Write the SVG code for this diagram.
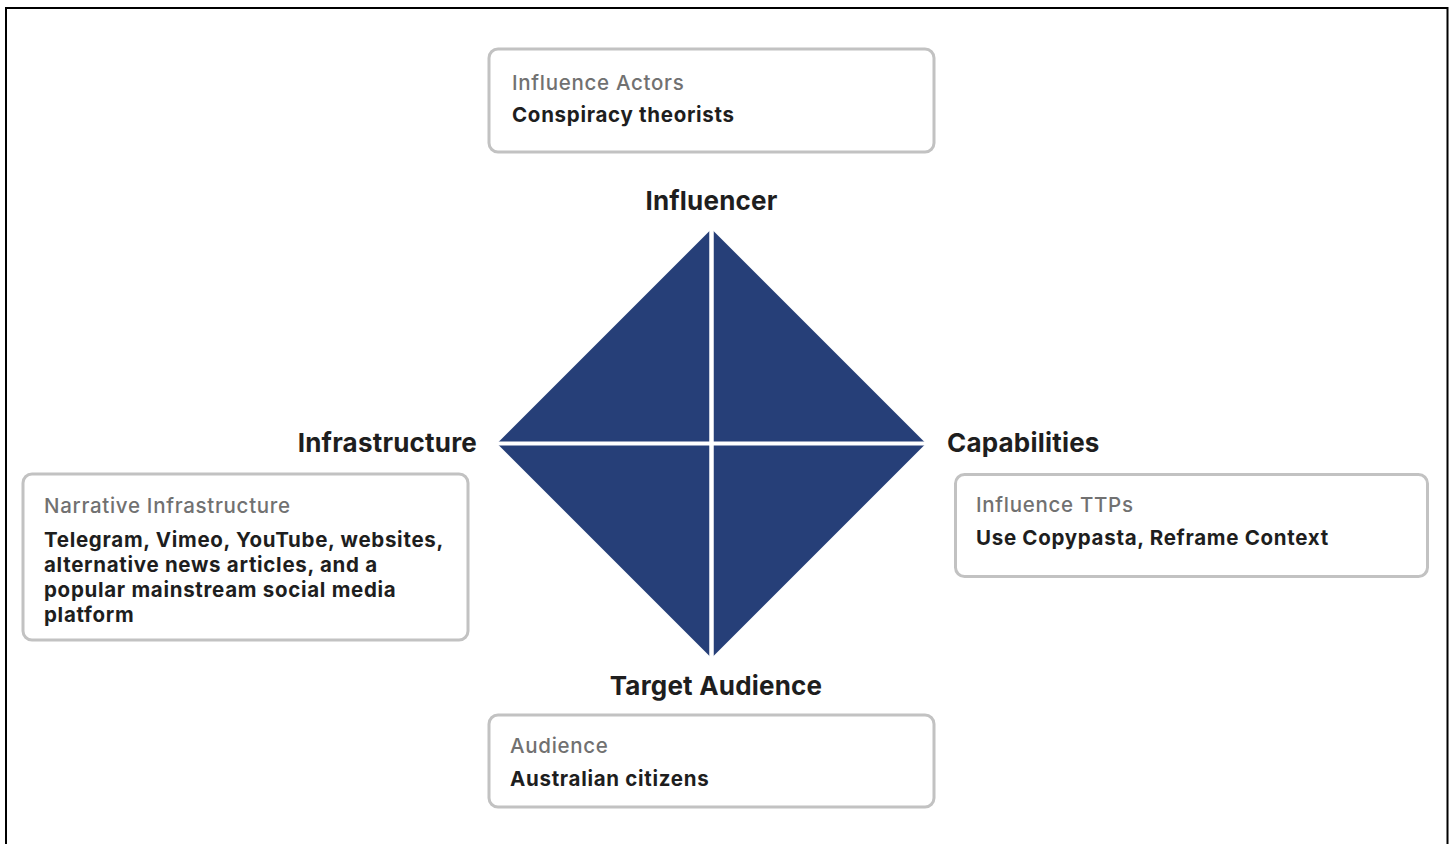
<svg xmlns="http://www.w3.org/2000/svg" width="1455" height="844" viewBox="0 0 1455 844">
<style>
.box{fill:#fff;stroke:#c2c2c2;stroke-width:3}
.sub{font-family:Inter,"Noto Sans",sans-serif;font-size:20.5px;font-weight:500;letter-spacing:0.7px;fill:#717171}
.val{font-family:Inter,"Noto Sans",sans-serif;font-size:20.5px;font-weight:700;letter-spacing:0.7px;fill:#1e1e1e}
.lbl{font-family:Inter,"Noto Sans",sans-serif;font-size:26px;font-weight:700;letter-spacing:0.2px;fill:#1e1e1e}
</style>
<rect x="0" y="0" width="1455" height="844" fill="#fff"/>
<rect x="6" y="8" width="1441.5" height="860" fill="none" stroke="#000" stroke-width="2"/>
<g id="diamond">
<polygon points="711.5,229 926,443.5 711.5,658 497,443.5" fill="#263f78"/>
<line x1="711.5" y1="225" x2="711.5" y2="662" stroke="#fff" stroke-width="4.5"/>
<line x1="492" y1="443.5" x2="931" y2="443.5" stroke="#fff" stroke-width="4"/>
</g>
<g id="connectors"></g>
<g id="influencer">
<text class="lbl" x="711.5" y="210" text-anchor="middle">Influencer</text>
<rect class="box" x="489" y="49" width="445" height="103" rx="9"/>
<text class="sub" x="512" y="90">Influence Actors</text>
<text class="val" x="512" y="122">Conspiracy theorists</text>
</g>
<g id="infrastructure">
<text class="lbl" x="477" y="452" text-anchor="end">Infrastructure</text>
<rect class="box" x="23" y="474" width="445" height="166" rx="9"/>
<text class="sub" x="44" y="513">Narrative Infrastructure</text>
<text class="val" x="44" y="547">Telegram, Vimeo, YouTube, websites,</text>
<text class="val" x="44" y="572">alternative news articles, and a</text>
<text class="val" x="44" y="597">popular mainstream social media</text>
<text class="val" x="44" y="622">platform</text>
</g>
<g id="capabilities">
<text class="lbl" x="947" y="452">Capabilities</text>
<rect class="box" x="955.5" y="474.5" width="472" height="102" rx="9"/>
<text class="sub" x="976" y="512">Influence TTPs</text>
<text class="val" x="976" y="545">Use Copypasta, Reframe Context</text>
</g>
<g id="target-audience">
<text class="lbl" x="716" y="695" text-anchor="middle">Target Audience</text>
<rect class="box" x="489" y="715" width="445" height="92" rx="9"/>
<text class="sub" x="510" y="753">Audience</text>
<text class="val" x="510" y="786">Australian citizens</text>
</g>
</svg>
